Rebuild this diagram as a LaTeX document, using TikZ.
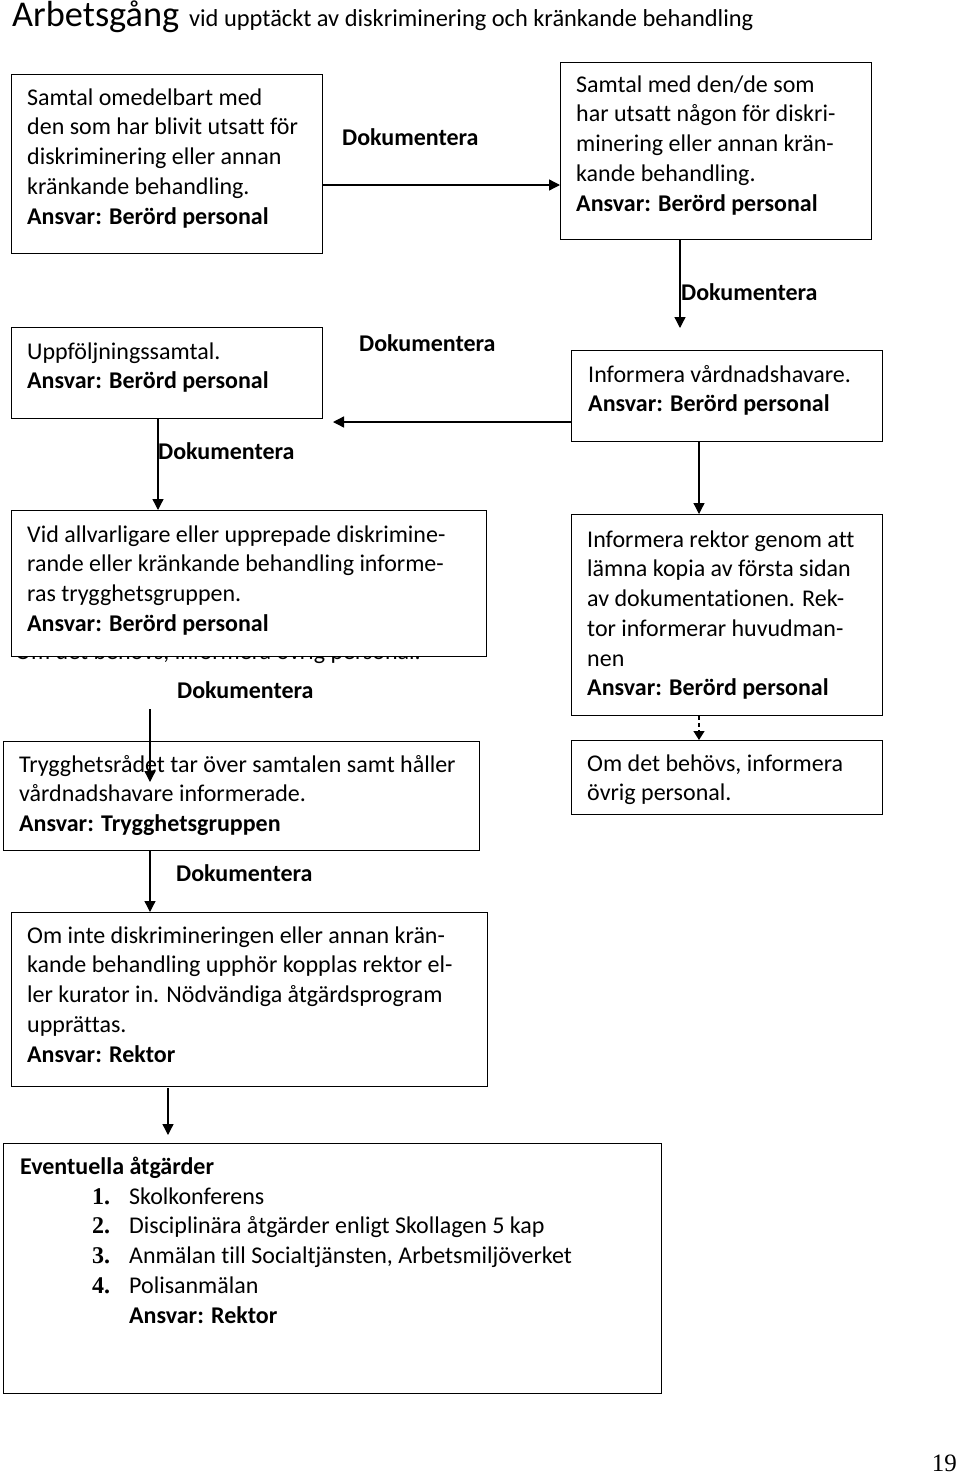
\documentclass[tikz,border=0pt]{standalone}
\usepackage{fontspec}
\setmainfont{Carlito}[Ligatures={NoCommon}]
\newfontfamily\numfont{Liberation Serif}
\usetikzlibrary{arrows.meta,calc}
\newcommand\bodyfont{\fontsize{24}{29.7}\selectfont}
\begin{document}
\begin{tikzpicture}[x=1pt,y=-1pt,
  box/.style={draw, line width=1.4pt, fill=white, inner sep=0pt, anchor=north west},
  txt/.style={anchor=north west, yshift=20.79pt, inner sep=0pt, align=left, font=\bodyfont},
  lbl/.style={anchor=base west, inner sep=0pt, font=\bodyfont\bfseries},
  arr/.style={line width=1.3pt, -{Triangle[length=11pt,width=11pt]}},
  darr/.style={line width=1.3pt, dashed, dash pattern=on 4pt off 3pt, -{Triangle[length=9pt,width=11pt]}}]
\useasboundingbox (0,0) rectangle (960,1475);
\fill[white] (0,0) rectangle (960,1475);

% title
\node[anchor=base west, inner sep=0pt] (title) at (12,26)
  {{\fontsize{36.3}{40}\selectfont Arbetsgång}\hspace{10pt}{\fontsize{24.4}{28}\selectfont vid upptäckt av diskriminering och kränkande behandling}};

% hidden text behind box 5
\node[anchor=base west, inner sep=0pt, font=\bodyfont] (hidden) at (15,659) {Om det behövs, informera övrig personal.};

% boxes
\node[box, minimum width=311pt, minimum height=179pt] (b1) at (11,74) {};
\node[box, minimum width=311pt, minimum height=177pt] (b2) at (560,62) {};
\node[box, minimum width=311pt, minimum height=91pt] (b3) at (571,350) {};
\node[box, minimum width=311pt, minimum height=91pt] (b4) at (11,327) {};
\node[box, minimum width=475pt, minimum height=146pt] (b5) at (11,510) {};
\node[box, minimum width=476pt, minimum height=109pt] (b6) at (3,741) {};
\node[box, minimum width=476pt, minimum height=174pt] (b7) at (11,912) {};
\node[box, minimum width=658pt, minimum height=250pt] (b8) at (3,1143) {};
\node[box, minimum width=311pt, minimum height=201pt] (b9) at (571,514) {};
\node[box, minimum width=311pt, minimum height=74pt] (b10) at (571,740) {};

% box texts
\node[txt] (t1) at (27,105) {\strut Samtal omedelbart med\\den som har blivit utsatt för\\diskriminering eller annan\\kränkande behandling.\\\textbf{Ansvar: Berörd personal}};
\node[txt] (t2) at (576,92) {\strut Samtal med den/de som\\har utsatt någon för diskri-\\minering eller annan krän-\\kande behandling.\\\textbf{Ansvar: Berörd personal}};
\node[txt] (t3) at (588,382) {\strut Informera vårdnadshavare.\\\textbf{Ansvar: Berörd personal}};
\node[txt] (t4) at (27,359) {\strut Uppföljningssamtal.\\\textbf{Ansvar: Berörd personal}};
\node[txt] (t5) at (27,542) {\strut Vid allvarligare eller upprepade diskrimine-\\rande eller kränkande behandling informe-\\ras trygghetsgruppen.\\\textbf{Ansvar: Berörd personal}};
\node[txt] (t6) at (19,772) {\strut Trygghetsrådet tar över samtalen samt håller\\vårdnadshavare informerade.\\\textbf{Ansvar: Trygghetsgruppen}};
\node[txt] (t7) at (27,943) {\strut Om inte diskrimineringen eller annan krän-\\kande behandling upphör kopplas rektor el-\\ler kurator in. Nödvändiga åtgärdsprogram\\upprättas.\\\textbf{Ansvar: Rektor}};
\node[txt] (t9) at (587,547) {\strut Informera rektor genom att\\lämna kopia av första sidan\\av dokumentationen. Rek-\\tor informerar huvudman-\\nen\\\textbf{Ansvar: Berörd personal}};
\node[txt] (t10) at (587,771) {\strut Om det behövs, informera\\övrig personal.};

% box 8
\node[lbl] (t8h) at (20,1174) {Eventuella åtgärder};
\node[txt] (t8n) at (92,1204) {\strut\numfont\bfseries 1.\\\numfont\bfseries 2.\\\numfont\bfseries 3.\\\numfont\bfseries 4.};
\node[txt] (t8i) at (129,1204) {\strut Skolkonferens\\Disciplinära åtgärder enligt Skollagen 5 kap\\Anmälan till Socialtjänsten, Arbetsmiljöverket\\Polisanmälan\\\textbf{Ansvar: Rektor}};

% labels
\node[lbl] (l1) at (342,145) {Dokumentera};
\node[lbl] (l2) at (681,300) {Dokumentera};
\node[lbl] (l3) at (359,351) {Dokumentera};
\node[lbl] (l4) at (158,459) {Dokumentera};
\node[lbl] (l5) at (177,698) {Dokumentera};
\node[lbl] (l6) at (176,881) {Dokumentera};

% page number
\node[anchor=base east, inner sep=0pt, font=\fontsize{25}{28}\selectfont\numfont] (pg) at (957,1471) {19};

% connector coordinates
\coordinate (y1) at (0,185);
\coordinate (c2) at (680,328);
\coordinate (c3) at (333,422);
\coordinate (x4) at (158,0);
\coordinate (s5) at (150,709);
\coordinate (e5) at (150,782);
\coordinate (x6) at (150,0);
\coordinate (s7) at (168,1088);
\coordinate (e7) at (168,1135);
\coordinate (x8) at (699,0);

% connectors
\draw[arr] (b1.east |- y1) -- (b2.west |- y1);
\draw[arr] (b2.south -| c2) -- (c2);
\draw[arr] (b3.west |- c3) -- (c3);
\draw[arr] (b4.south -| x4) -- (b5.north -| x4);
\draw[arr] (s5) -- (e5);
\draw[arr] (b6.south -| x6) -- (b7.north -| x6);
\draw[arr] (s7) -- (e7);
\draw[arr] (b3.south -| x8) -- (b9.north -| x8);
\draw[darr] (b9.south -| x8) -- (b10.north -| x8);
\end{tikzpicture}
\end{document}
